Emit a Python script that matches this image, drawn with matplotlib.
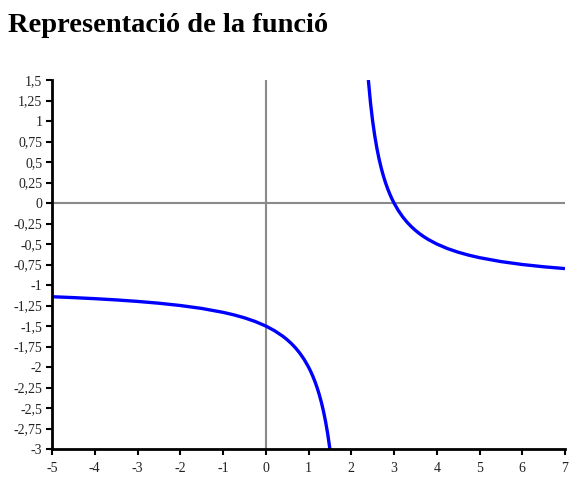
import matplotlib
matplotlib.use("Agg")
import matplotlib.pyplot as plt

title = "Representació de la funció"

# Left branch (x < 2)
x_left = [-5, -4.5, -4, -3.5, -3, -2.5, -2, -1.5, -1, -0.75, -0.5, -0.25, 0,
          0.2, 0.4, 0.5, 0.6, 0.7, 0.8, 0.9, 1, 1.05, 1.1, 1.15, 1.2, 1.25,
          1.3, 1.35, 1.4, 1.45, 1.5]
y_left = [-1.1429, -1.1538, -1.1667, -1.1818, -1.2, -1.2222, -1.25, -1.2857,
          -1.3333, -1.3636, -1.4, -1.4444, -1.5, -1.5556, -1.625, -1.6667,
          -1.7143, -1.7692, -1.8333, -1.9091, -2.0, -2.0526, -2.1111, -2.1765,
          -2.25, -2.3333, -2.4286, -2.5385, -2.6667, -2.8182, -3.0]

# Right branch (x > 2)
x_right = [2.4, 2.45, 2.5, 2.55, 2.6, 2.65, 2.7, 2.75, 2.8, 2.85, 2.9, 2.95,
           3, 3.1, 3.2, 3.3, 3.4, 3.5, 3.6, 3.7, 3.8, 4, 4.25, 4.5, 4.75, 5,
           5.5, 6, 6.5, 7]
y_right = [1.5, 1.2222, 1.0, 0.8182, 0.6667, 0.5385, 0.4286, 0.3333, 0.25,
           0.1765, 0.1111, 0.0526, 0.0, -0.0909, -0.1667, -0.2308, -0.2857,
           -0.3333, -0.375, -0.4118, -0.4444, -0.5, -0.5556, -0.6, -0.6364,
           -0.6667, -0.7143, -0.75, -0.7778, -0.8]

x_ticks = [-5, -4, -3, -2, -1, 0, 1, 2, 3, 4, 5, 6, 7]
y_ticks = [1.5, 1.25, 1, 0.75, 0.5, 0.25, 0, -0.25, -0.5, -0.75, -1, -1.25,
           -1.5, -1.75, -2, -2.25, -2.5, -2.75, -3]
y_tick_labels = ["1,5", "1,25", "1", "0,75", "0,5", "0,25", "0", "-0,25",
                 "-0,5", "-0,75", "-1", "-1,25", "-1,5", "-1,75", "-2",
                 "-2,25", "-2,5", "-2,75", "-3"]

plt.rcParams['font.family'] = ['Liberation Serif', 'DejaVu Serif']

fig = plt.figure(figsize=(5.87, 4.97), dpi=100)
ax = fig.add_axes([52/587, 1 - 449/497, (565-52)/587, (449-80)/497])

ax.axhline(0, color="#8a8a8a", lw=1.5, zorder=1)
ax.axvline(0, color="#8a8a8a", lw=1.5, zorder=1)

ax.plot(x_left, y_left, color="#0000ff", lw=2.4, zorder=3, solid_capstyle="butt")
ax.plot(x_right, y_right, color="#0000ff", lw=2.4, zorder=3, solid_capstyle="butt")

ax.set_xlim(-5, 7)
ax.set_ylim(-3, 1.5)
ax.set_xticks(x_ticks)
ax.set_xticklabels([str(t) for t in x_ticks])
ax.set_yticks(y_ticks)
ax.set_yticklabels(y_tick_labels)

for s in ["top", "right"]:
    ax.spines[s].set_visible(False)
for s in ["left", "bottom"]:
    ax.spines[s].set_linewidth(2)
    ax.spines[s].set_color("black")
    ax.spines[s].set_zorder(4)

ax.tick_params(axis="both", direction="out", length=4, width=1.5,
               labelsize=10, colors="black")
ax.tick_params(axis="y", pad=3)
ax.tick_params(axis="x", pad=5)
for lbl in ax.get_xticklabels() + ax.get_yticklabels():
    lbl.set_color("#222222")

fig.text(8/587, 1 - 32/497, title, fontsize=20.5, fontweight="bold",
         ha="left", va="baseline", family=['Liberation Serif', 'DejaVu Serif'])

fig.savefig("out.png", dpi=100)
